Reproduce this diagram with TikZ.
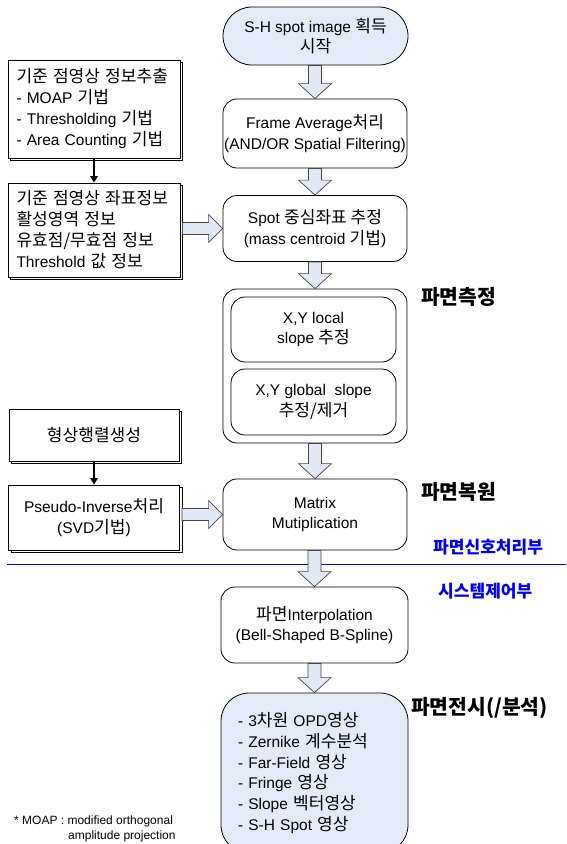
\documentclass[tikz,border=0pt]{standalone}
\usepackage{fontspec}
\setmainfont{Liberation Sans}
\newfontfamily\krfont[Scale=1.1]{Noto Sans CJK KR}
\usetikzlibrary{
  arrows.meta,
  calc,
  shadows
}
\usepackage{xcolor}
\definecolor{boxBlue}{RGB}{228,235,246}
\definecolor{arrowBlue}{RGB}{226,233,245}
\definecolor{arrowLine}{RGB}{70,70,70}
\definecolor{labelBlue}{RGB}{0,0,255}
\newcommand{\kr}[1]{{\krfont #1}}
\newcommand{\downBlock}[2]{\draw[blockArrow] let \p1=(#1.south), \p2=(#2.north) in
  (\x2-6.5pt,\y1) -- (\x2-6.5pt,\y2+15pt) -- (\x2-16.5pt,\y2+15pt)
  -- (\x2,\y2) -- (\x2+16.5pt,\y2+15pt) -- (\x2+6.5pt,\y2+15pt)
  -- (\x2+6.5pt,\y1) -- cycle;}
\newcommand{\rightBlock}[2]{\draw[blockArrow] let \p1=(#1.east), \p2=(#2.west) in
  (\x1+2pt,\y2+6pt) -- (\x2-14pt,\y2+6pt) -- (\x2-14pt,\y2+14pt)
  -- (\x2,\y2) -- (\x2-14pt,\y2-14pt) -- (\x2-14pt,\y2-6pt)
  -- (\x1+2pt,\y2-6pt) -- cycle;}
\tikzset{
  stepBox/.style={
    draw,
    rounded corners=14pt,
    line width=0.8pt,
    fill=white,
    align=center,
    inner sep=0pt,
    font=\fontsize{15.5}{20.5}\selectfont
  }
}
\tikzset{
  sideBox/.style={
    draw,
    line width=0.8pt,
    fill=white,
    inner sep=0pt,
    font=\fontsize{15.5}{21}\selectfont,
    copy shadow={shadow xshift=2.5pt, shadow yshift=-2.5pt}
  }
}
\tikzset{
  blockArrow/.style={
    draw=arrowLine,
    fill=arrowBlue,
    line width=0.7pt
  }
}
\tikzset{
  stageLabel/.style={
    anchor=west,
    inner sep=0pt,
    font=\krfont\bfseries\fontsize{18.5}{24}\selectfont
  },
  partLabel/.style={
    anchor=west,
    inner sep=0pt,
    text=labelBlue,
    font=\krfont\bfseries\fontsize{15.5}{18}\selectfont
  }
}

\begin{document}
\begin{tikzpicture}[x=1pt, y=-1pt, >=Triangle]
  \useasboundingbox (0,0) rectangle (566,844);

  % main column
  \node[stepBox, fill=boxBlue, rounded corners=29pt, minimum width=185pt, minimum height=58pt]
    (start) at (315.5,36) {S-H spot image \kr{획득}\\\kr{시작}};
  \node[stepBox, minimum width=184pt, minimum height=69pt]
    (frame) at (315,133.5) {Frame Average\kr{처리}\\(AND/OR Spatial Filtering)};
  \node[stepBox, minimum width=184pt, minimum height=66pt]
    (spot) at (315,228.5) {Spot \kr{중심좌표 추정}\\(mass centroid \kr{기법})};
  \node[stepBox, minimum width=184pt, minimum height=154pt]
    (measure) at (315,366) {};
  \node[stepBox, minimum width=165pt, minimum height=65pt]
    (localSlope) at (313.5,329.5) {X,Y local\\slope \kr{추정}};
  \node[stepBox, minimum width=165pt, minimum height=66pt]
    (globalSlope) at (313.5,402) {X,Y global\ \ slope\\\kr{추정/제거}};
  \node[stepBox, minimum width=184pt, minimum height=71pt]
    (matrix) at (315,514.5) {Matrix\\Mutiplication};
  \node[stepBox, minimum width=187pt, minimum height=76pt]
    (interp) at (314.5,625) {\kr{파면}Interpolation\\(Bell-Shaped B-Spline)};
  \node[stepBox, fill=boxBlue, rounded corners=28pt, minimum width=187pt, minimum height=160pt,
    align=left, text width=153pt, inner xsep=17pt, font=\fontsize{15.5}{20.8}\selectfont]
    (display) at (314.5,773) {- 3\kr{차원} OPD\kr{영상}\\- Zernike \kr{계수분석}\\
    - Far-Field \kr{영상}\\- Fringe \kr{영상}\\- Slope \kr{벡터영상}\\- S-H Spot \kr{영상}};

  % side column
  \node[sideBox, minimum width=172pt, minimum height=98pt, align=left, text width=155pt, inner xsep=8.5pt]
    (info) at (94,109) {\kr{기준 점영상 정보추출}\\- MOAP \kr{기법}\\- Thresholding \kr{기법}\\- Area Counting \kr{기법}};
  \node[sideBox, minimum width=172pt, minimum height=94pt, align=left, text width=155pt, inner xsep=8.5pt]
    (coord) at (94,230) {\kr{기준 점영상 좌표정보}\\\kr{활성영역 정보}\\\kr{유효점/무효점 정보}\\Threshold \kr{값 정보}};
  \node[sideBox, minimum width=170pt, minimum height=52pt, align=center]
    (shapeMat) at (94,435) {\kr{형상행렬생성}};
  \node[sideBox, minimum width=171pt, minimum height=65pt, align=center]
    (pinv) at (94,517.5) {Pseudo-Inverse\kr{처리}\\(SVD\kr{기법})};

  % labels
  \node[stageLabel] (measureLbl) at (421,297) {파면측정};
  \node[stageLabel] (restoreLbl) at (421,492) {파면복원};
  \node[stageLabel] (displayLbl) at (411,708) {파면전시(/분석)};
  \node[partLabel] (signalLbl) at (433,547) {파면신호처리부};
  \node[partLabel] (controlLbl) at (438,591) {시스템제어부};
  \node[anchor=north west, inner sep=0pt, align=left, font=\fontsize{12}{15}\selectfont]
    (note) at (14,816) {* MOAP : modified orthogonal\\\hspace*{54pt}amplitude projection};

  % divider
  \coordinate (divL) at (7,564);
  \coordinate (divR) at (566,564);
  \draw[labelBlue, line width=0.8pt] (divL) -- (divR);

  % connectors
  \downBlock{start}{frame}
  \downBlock{frame}{spot}
  \downBlock{spot}{measure}
  \downBlock{measure}{matrix}
  \downBlock{matrix}{interp}
  \downBlock{interp}{display}
  \rightBlock{coord}{spot}
  \rightBlock{pinv}{matrix}
  \draw[->, line width=1.3pt] (info.south) -- (coord.north);
  \draw[->, line width=1.3pt] (shapeMat.south) -- (pinv.north);
\end{tikzpicture}
\end{document}
